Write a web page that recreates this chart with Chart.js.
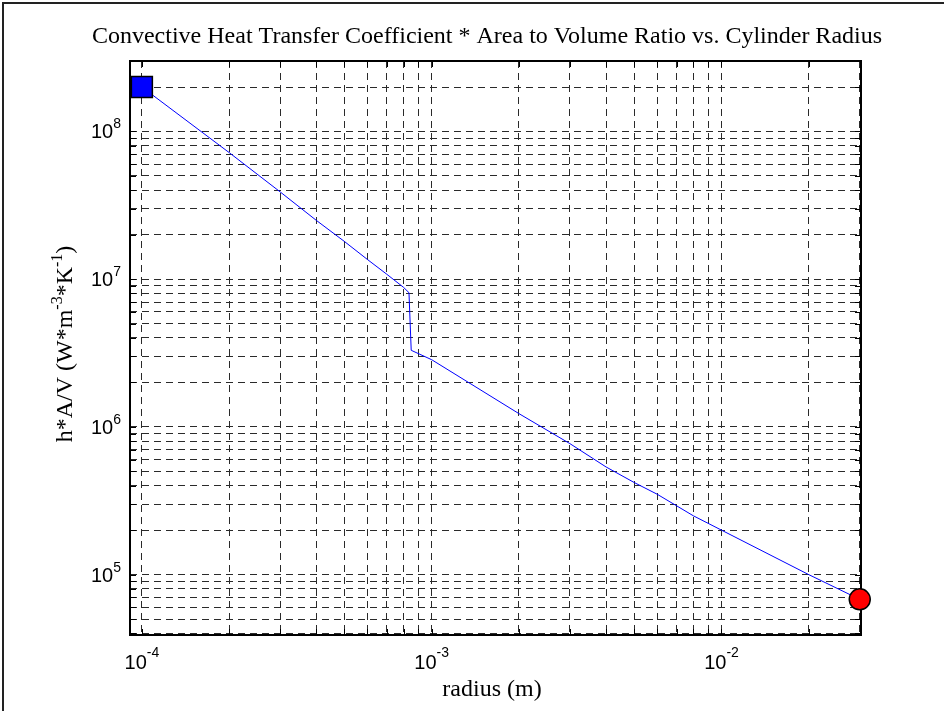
<!DOCTYPE html>
<html>
<head>
<meta charset="utf-8">
<title>h*A/V vs radius</title>
<script src="https://cdn.jsdelivr.net/npm/chart.js@4.4.0/dist/chart.umd.min.js"></script>
<style>
  html, body { margin: 0; padding: 0; background: #fff; }
  #contenedor { width: 944px; height: 711px; position: relative; }
</style>
</head>
<body>
<div id="contenedor"><canvas id="grafica"></canvas></div>
<script>
// Valores (radio en m, h*A/V en W m^-3 K^-1)
const radios = [1e-4, 2e-4, 3e-4, 4e-4, 5e-4, 6e-4, 7e-4, 8e-4, 8.35e-4, 8.5e-4,
                1e-3, 2e-3, 3e-3, 4e-3, 5e-3, 6e-3, 8e-3, 1e-2, 2e-2, 3e-2];
const hAV = [2.0e8, 7.2e7, 3.9e7, 2.5e7, 1.8e7, 1.36e7, 1.08e7, 8.8e6, 8.1e6, 3.3e6,
             2.85e6, 1.23e6, 7.7e5, 5.35e5, 4.2e5, 3.5e5, 2.5e5, 2.0e5, 1.0e5, 6.8e4];

// Marcas de los ejes (rejilla logarítmica)
const marcasX = [1e-4, 2e-4, 3e-4, 4e-4, 5e-4, 6e-4, 7e-4, 8e-4, 9e-4,
                 1e-3, 2e-3, 3e-3, 4e-3, 5e-3, 6e-3, 7e-3, 8e-3, 9e-3,
                 1e-2, 2e-2, 3e-2];
const marcasY = [4e4, 5e4, 6e4, 7e4, 8e4, 9e4,
                 1e5, 2e5, 3e5, 4e5, 5e5, 6e5, 7e5, 8e5, 9e5,
                 1e6, 2e6, 3e6, 4e6, 5e6, 6e6, 7e6, 8e6, 9e6,
                 1e7, 2e7, 3e7, 4e7, 5e7, 6e7, 7e7, 8e7, 9e7,
                 1e8, 2e8, 3e8];

// Etiquetas de las décadas: base 10 con exponente
const decadasX = [1e-4, 1e-3, 1e-2];
const exponentesX = ['-4', '-3', '-2'];
const decadasY = [1e5, 1e6, 1e7, 1e8];
const exponentesY = ['5', '6', '7', '8'];

const titulo = 'Convective Heat Transfer Coefficient * Area to Volume Ratio vs. Cylinder Radius';
const tituloX = 'radius (m)';
// partes del título del eje y: [texto, superíndice]
const tituloY = [['h*A/V (W*m', false], ['-3', true], ['*K', false], ['-1', true], [')', false]];

const fuenteSerif = "'Liberation Serif', 'Times New Roman', serif";
const fuenteSans = "'Liberation Sans', Arial, sans-serif";

// "10" con su exponente
function anchoPotencia(ctx, exp) {
  ctx.font = '20px ' + fuenteSans;
  const a = ctx.measureText('10').width;
  ctx.font = '14px ' + fuenteSans;
  return a + ctx.measureText(exp).width;
}
function potencia(ctx, exp, x0, base, subida) {
  ctx.font = '20px ' + fuenteSans;
  ctx.fillText('10', x0, base);
  const a = ctx.measureText('10').width;
  ctx.font = '14px ' + fuenteSans;
  ctx.fillText(exp, x0 + a, base - subida);
}

const estiloMatlab = {
  id: 'estiloMatlab',
  beforeDraw(chart) {
    const ctx = chart.ctx;
    ctx.save();
    ctx.fillStyle = '#fff';
    ctx.fillRect(0, 0, chart.width, chart.height);
    // marco exterior de la figura
    ctx.strokeStyle = '#222';
    ctx.lineWidth = 2;
    ctx.beginPath();
    ctx.moveTo(3, chart.height);
    ctx.lineTo(3, 3);
    ctx.lineTo(chart.width, 3);
    ctx.stroke();
    ctx.restore();
  },
  beforeDatasetsDraw(chart) {
    const {ctx, chartArea: a, scales: {x, y}} = chart;
    const L = 6;
    ctx.save();
    ctx.strokeStyle = '#000';
    ctx.lineWidth = 1;
    ctx.beginPath();
    marcasX.forEach(v => {
      const px = Math.round(x.getPixelForValue(v)) + 0.5;
      ctx.moveTo(px, a.bottom); ctx.lineTo(px, a.bottom - L);
      ctx.moveTo(px, a.top); ctx.lineTo(px, a.top + L);
    });
    marcasY.forEach(v => {
      const py = Math.round(y.getPixelForValue(v)) + 0.5;
      ctx.moveTo(a.left, py); ctx.lineTo(a.left + L, py);
      ctx.moveTo(a.right, py); ctx.lineTo(a.right - L, py);
    });
    ctx.stroke();
    // caja de los ejes
    ctx.lineWidth = 2;
    ctx.strokeRect(a.left, a.top, a.right - a.left, a.bottom - a.top);
    ctx.restore();
  },
  afterDraw(chart) {
    const {ctx, chartArea: a, scales: {x, y}} = chart;
    ctx.save();
    ctx.fillStyle = '#000';
    ctx.textAlign = 'left';
    ctx.textBaseline = 'alphabetic';

    // etiquetas eje x
    decadasX.forEach((v, i) => {
      const px = x.getPixelForValue(v);
      const w = anchoPotencia(ctx, exponentesX[i]);
      potencia(ctx, exponentesX[i], px - w / 2, a.bottom + 34, 12);
    });
    // etiquetas eje y
    decadasY.forEach((v, i) => {
      const py = y.getPixelForValue(v);
      const w = anchoPotencia(ctx, exponentesY[i]);
      potencia(ctx, exponentesY[i], a.left - 9 - w, py + 7, 10);
    });

    // título
    ctx.textAlign = 'center';
    ctx.font = '24px ' + fuenteSerif;
    ctx.fillText(titulo, 487, 43);
    // título eje x
    ctx.fillText(tituloX, 492, 696);

    // título eje y (girado, con superíndices)
    ctx.textAlign = 'left';
    let total = 0;
    tituloY.forEach(([t, sup]) => {
      ctx.font = (sup ? '16px ' : '24px ') + fuenteSerif;
      total += ctx.measureText(t).width;
    });
    ctx.translate(72, (a.top + a.bottom) / 2 - 4);
    ctx.rotate(-Math.PI / 2);
    let pos = -total / 2;
    tituloY.forEach(([t, sup]) => {
      ctx.font = (sup ? '16px ' : '24px ') + fuenteSerif;
      ctx.fillText(t, pos, sup ? -10 : 0);
      pos += ctx.measureText(t).width;
    });
    ctx.restore();
  }
};

const ejeLog = (min, max, marcas) => ({
  type: 'logarithmic',
  min: min,
  max: max,
  afterBuildTicks: scale => { scale.ticks = marcas.map(v => ({value: v})); },
  ticks: { display: false },
  grid: { color: '#2a2a2a', lineWidth: 1, drawTicks: false },
  border: { display: false, dash: [7, 5] }
});

const ultimo = radios.length - 1;

new Chart(document.getElementById('grafica').getContext('2d'), {
  type: 'line',
  data: {
    datasets: [{
      label: 'h*A/V',
      data: radios.map((r, i) => ({x: r, y: hAV[i]})),
      borderColor: '#0000ff',
      borderWidth: 1,
      tension: 0,
      clip: false,
      pointStyle: c => c.dataIndex === 0 ? 'rect' : 'circle',
      pointRadius: c => c.dataIndex === 0 ? 14.85 : (c.dataIndex === ultimo ? 10.5 : 0),
      pointHoverRadius: c => c.dataIndex === 0 ? 14.85 : (c.dataIndex === ultimo ? 10.5 : 0),
      pointBackgroundColor: c => c.dataIndex === 0 ? '#0000ff' : '#ff0000',
      pointBorderColor: '#000',
      pointBorderWidth: 1.5
    }]
  },
  options: {
    responsive: true,
    maintainAspectRatio: false,
    animation: false,
    layout: { padding: { left: 130, right: 83, top: 61, bottom: 76 } },
    plugins: { legend: { display: false }, tooltip: { enabled: false } },
    scales: {
      x: ejeLog(9.1e-5, 3.03e-2, marcasX),
      y: ejeLog(3.9e4, 3.0e8, marcasY)
    }
  },
  plugins: [estiloMatlab]
});
</script>
</body>
</html>
